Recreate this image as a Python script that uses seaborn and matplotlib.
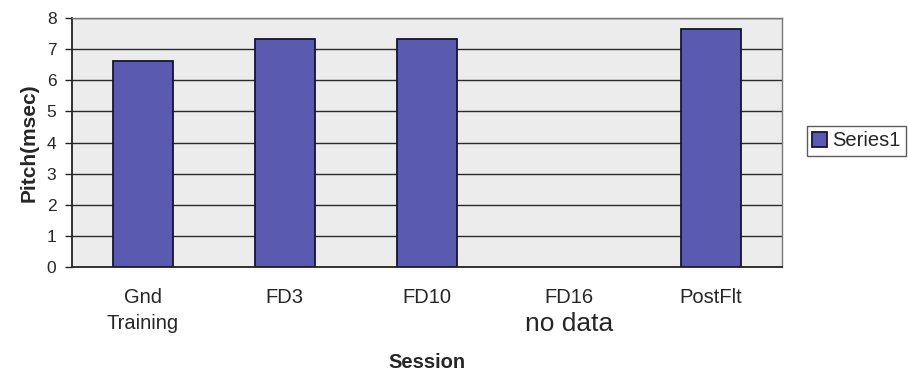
import numpy as np
import pandas as pd
import matplotlib
matplotlib.use("Agg")
import matplotlib.pyplot as plt
import matplotlib.transforms as mtransforms
import seaborn as sns

sessions = ["Gnd\nTraining", "FD3", "FD10", "FD16", "PostFlt"]
pitch = [6.63, 7.33, 7.33, np.nan, 7.64]
series_name = "Series1"
y_ticks = [0, 1, 2, 3, 4, 5, 6, 7, 8]
no_data_session = "FD16"
no_data_label = "no data"

sns.set_theme(style="white")
plt.rcParams["font.family"] = ["Liberation Sans", "DejaVu Sans"]

df = pd.DataFrame({"Session": sessions, "Pitch": pitch, "series": series_name})

fig = plt.figure(figsize=(9.08, 3.76), dpi=100)
ax = fig.add_axes([0.079, 0.29, 0.782, 0.662])
ax.set_facecolor("#ececec")

sns.barplot(data=df, x="Session", y="Pitch", hue="series", palette=["#4b4bc0"],
            width=0.42, edgecolor="#151535", linewidth=1.3, ax=ax, legend=True)

ax.set_ylim(0, 8)
ax.set_xlim(-0.5, len(sessions) - 0.5)
ax.set_yticks(y_ticks)
ax.set_yticklabels([str(t) for t in y_ticks], fontsize=12.5)
for t in y_ticks[1:]:
    ax.axhline(t, color="#2a2a2a", linewidth=1.0, zorder=0.5)
ax.set_axisbelow(True)

# category labels at centres, tick marks at boundaries (Excel style)
ax.set_xticks(range(len(sessions)))
ax.set_xticklabels(sessions, fontsize=14.5, linespacing=1.45)
ax.tick_params(axis="x", which="major", length=0, pad=15)
ax.set_xticks(np.arange(-0.5, len(sessions), 1.0), minor=True)
ax.tick_params(axis="x", which="minor", length=7, direction="inout", width=1, color="#222222")
ax.tick_params(axis="y", which="major", length=5, direction="out", width=1, color="#222222", left=True, pad=6)

trans = mtransforms.blended_transform_factory(ax.transData, ax.transAxes)
ax.text(sessions.index(no_data_session), -0.23, no_data_label, transform=trans,
        ha="center", va="center", fontsize=19)

ax.set_xlabel("Session", fontsize=14.5, fontweight="bold", labelpad=15)
ax.set_ylabel("Pitch(msec)", fontsize=15, fontweight="bold", labelpad=6)

for side in ["left", "bottom"]:
    ax.spines[side].set_color("#222222")
    ax.spines[side].set_linewidth(1.3)
for side in ["top", "right"]:
    ax.spines[side].set_color("#777777")
    ax.spines[side].set_linewidth(1.0)

ax.legend(loc="center", bbox_to_anchor=(0.943, 0.625), bbox_transform=fig.transFigure,
          frameon=True, fancybox=False, edgecolor="#333333", fontsize=14.5,
          handlelength=0.75, handleheight=0.75, handletextpad=0.25, borderpad=0.25,
          borderaxespad=0)

fig.savefig("out.png", dpi=100, facecolor="white")
